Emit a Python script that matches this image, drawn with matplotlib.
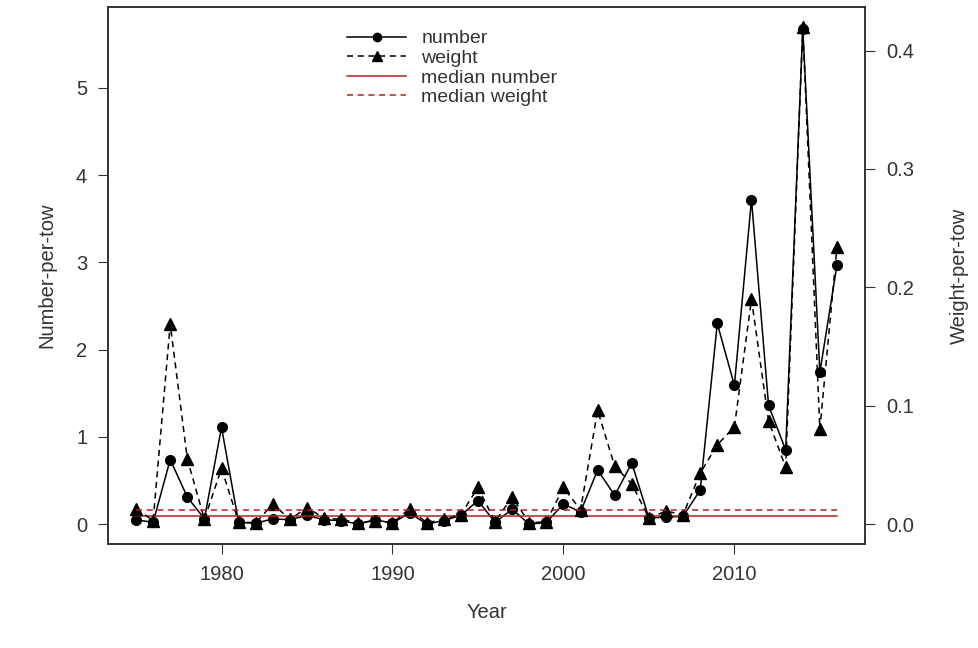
import matplotlib
matplotlib.use("Agg")
import matplotlib.pyplot as plt
from matplotlib.lines import Line2D

plt.rcParams["font.family"] = ["Liberation Sans", "DejaVu Sans"]

years = list(range(1975, 2017))
number = [0.05, 0.02, 0.74, 0.31, 0.06, 1.11, 0.02, 0.01, 0.06, 0.05,
          0.10, 0.05, 0.04, 0.00, 0.05, 0.01, 0.13, 0.00, 0.04, 0.10,
          0.27, 0.02, 0.17, 0.00, 0.02, 0.23, 0.14, 0.62, 0.33, 0.70,
          0.07, 0.08, 0.09, 0.39, 2.30, 1.59, 3.72, 1.36, 0.85, 5.68,
          1.74, 2.97]
weight = [0.013, 0.003, 0.169, 0.055, 0.004, 0.047, 0.002, 0.001, 0.017, 0.004,
          0.014, 0.005, 0.004, 0.001, 0.003, 0.001, 0.013, 0.001, 0.004, 0.008,
          0.031, 0.002, 0.023, 0.001, 0.002, 0.031, 0.012, 0.096, 0.049, 0.034,
          0.005, 0.011, 0.008, 0.043, 0.067, 0.082, 0.190, 0.087, 0.048, 0.420,
          0.080, 0.234]
median_number = 0.09
median_weight = 0.012

TXT = "#333333"
fig = plt.figure(figsize=(9.79, 6.48), dpi=100)
ax = fig.add_axes([108 / 979, 104 / 648, 757 / 979, 537 / 648])
ax.plot(years, number, color="black", lw=1.1, marker="o", ms=7)
ax.plot([years[0], years[-1]], [median_number] * 2, color="#b22222", lw=1.1)
ax.set_xlim(1973.36, 2017.64)
ax.set_ylim(-0.228, 5.928)
ax.set_xticks([1980, 1990, 2000, 2010])
ax.set_yticks(range(6))
ax.set_xlabel("Year", fontsize=14.5, labelpad=14, color=TXT)
ax.set_ylabel("Number-per-tow", fontsize=14.5, labelpad=14, color=TXT)
ax.tick_params(labelsize=14.5, length=7, pad=8, labelcolor=TXT, color=TXT)

ax2 = ax.twinx()
ax2.plot(years, weight, color="black", lw=1.1, ls=(0, (4, 3)), marker="^", ms=8)
ax2.plot([years[0], years[-1]], [median_weight] * 2, color="#b22222", lw=1.1,
         ls=(0, (4, 3)))
ax2.set_ylim(-0.0168, 0.4368)
ax2.set_yticks([0.0, 0.1, 0.2, 0.3, 0.4])
ax2.set_yticklabels(["0.0", "0.1", "0.2", "0.3", "0.4"])
ax2.tick_params(labelsize=14.5, length=7, pad=8, labelcolor=TXT, color=TXT)
ax2.set_ylabel("Weight-per-tow", fontsize=14.5, labelpad=26, rotation=90, color=TXT)

for a in (ax, ax2):
    for s in a.spines.values():
        s.set_linewidth(1.2)
        s.set_color(TXT)

handles = [
    Line2D([], [], color="black", lw=1.1, marker="o", ms=6, label="number"),
    Line2D([], [], color="black", lw=1.1, ls=(0, (4, 3)), marker="^", ms=7, label="weight"),
    Line2D([], [], color="#b22222", lw=1.1, label="median number"),
    Line2D([], [], color="#b22222", lw=1.1, ls=(0, (4, 3)), label="median weight"),
]
ax.legend(handles=handles, loc="upper center", bbox_to_anchor=(0.455, 0.99),
          frameon=False, fontsize=14, handlelength=3, labelspacing=0.1,
          labelcolor=TXT)

fig.savefig("out.png", dpi=100)
